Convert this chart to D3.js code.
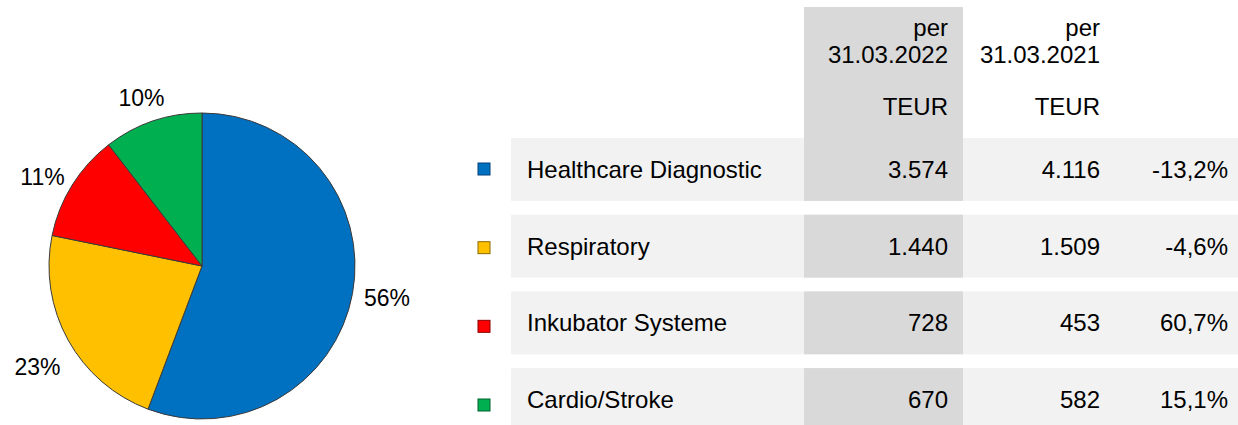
<!DOCTYPE html>
<html>
<head>
<meta charset="utf-8">
<script src="https://cdn.jsdelivr.net/npm/d3@7"></script>
<style>
  body { margin: 0; background: #fff; }
  text { font-family: "Liberation Sans", Arial, sans-serif; fill: #000; }
</style>
</head>
<body>
<div id="chart"></div>
<script>
// data
var categories = ["Healthcare Diagnostic", "Respiratory", "Inkubator Systeme", "Cardio/Stroke"]
var values2022 = [3574, 1440, 728, 670]
var values2021 = [4116, 1509, 453, 582]
var shareLabels = ["56%", "23%", "11%", "10%"]
var headers2022 = ["per", "31.03.2022", "TEUR"]
var headers2021 = ["per", "31.03.2021", "TEUR"]

var colors = ["#0070c0", "#ffc000", "#ff0000", "#00b050"]
var borders = ["#00407a", "#8a6a00", "#8a0000", "#00602c"]

var width = 1238
var height = 425

var de = d3.formatLocale({ decimal: ",", thousands: ".", grouping: [3], currency: ["", " €"] })
var fmtNum = de.format(",d")
var fmtPct = de.format(".1%")

var svg = d3.select("#chart")
  .append("svg")
    .attr("width", width)
    .attr("height", height)

// ---- pie ----
var cx = 202, cy = 266, radius = 153

var pie = d3.pie().sort(null).value(function(d){ return d })
var arcs = pie(values2022)

var arc = d3.arc().innerRadius(0).outerRadius(radius)
var labelArc = d3.arc().innerRadius(188).outerRadius(188)

var gPie = svg.append("g").attr("transform", "translate(" + cx + "," + cy + ")")

gPie.selectAll("path")
  .data(arcs)
  .enter()
  .append("path")
    .attr("d", arc)
    .attr("fill", function(d, i){ return colors[i] })
    .attr("stroke", "#3a3a3a")
    .attr("stroke-width", 1)

// labels on the left side sit a bit lower than the plain centroid
gPie.selectAll("text")
  .data(arcs)
  .enter()
  .append("text")
    .attr("x", function(d){ return labelArc.centroid(d)[0] })
    .attr("y", function(d){
      var c = labelArc.centroid(d)
      return c[1] + (c[0] < 0 ? 18 : 6)
    })
    .attr("text-anchor", "middle")
    .style("font-size", "23px")
    .text(function(d, i){ return shareLabels[i] })

// ---- table ----
var rowLeft = 511
var grayLeft = 804, grayRight = 963
var col1 = 948, col2 = 1100, col3 = 1228

var y = d3.scaleBand()
  .domain(categories)
  .range([138, 431])
  .paddingInner(0.18)
  .paddingOuter(0)

// legend squares sit on their own slightly wider spacing
var yLegend = d3.scalePoint()
  .domain(categories)
  .range([169, 405])

// gray header block of the current-year column
svg.append("rect")
  .attr("x", grayLeft)
  .attr("y", 7)
  .attr("width", grayRight - grayLeft)
  .attr("height", y(categories[0]) - 7)
  .attr("fill", "#d9d9d9")

var headerY = [36, 63, 115]
svg.selectAll(".h22")
  .data(headers2022)
  .enter()
  .append("text")
    .attr("x", col1)
    .attr("y", function(d, i){ return headerY[i] })
    .attr("text-anchor", "end")
    .style("font-size", "24px")
    .text(function(d){ return d })

svg.selectAll(".h21")
  .data(headers2021)
  .enter()
  .append("text")
    .attr("x", col2)
    .attr("y", function(d, i){ return headerY[i] })
    .attr("text-anchor", "end")
    .style("font-size", "24px")
    .text(function(d){ return d })

var rows = svg.selectAll(".row")
  .data(categories)
  .enter()
  .append("g")
    .attr("class", "row")

rows.append("rect")
  .attr("x", rowLeft)
  .attr("y", function(d){ return y(d) })
  .attr("width", width - rowLeft)
  .attr("height", y.bandwidth())
  .attr("fill", "#f2f2f2")

rows.append("rect")
  .attr("x", grayLeft)
  .attr("y", function(d){ return y(d) })
  .attr("width", grayRight - grayLeft)
  .attr("height", y.bandwidth())
  .attr("fill", "#d9d9d9")

var baseY = function(d){ return y(d) + y.bandwidth() / 2 + 8.5 }

rows.append("text")
  .attr("x", 527)
  .attr("y", baseY)
  .style("font-size", "24px")
  .text(function(d){ return d })

rows.append("text")
  .attr("x", col1)
  .attr("y", baseY)
  .attr("text-anchor", "end")
  .style("font-size", "24px")
  .text(function(d, i){ return fmtNum(values2022[i]) })

rows.append("text")
  .attr("x", col2)
  .attr("y", baseY)
  .attr("text-anchor", "end")
  .style("font-size", "24px")
  .text(function(d, i){ return fmtNum(values2021[i]) })

rows.append("text")
  .attr("x", col3)
  .attr("y", baseY)
  .attr("text-anchor", "end")
  .style("font-size", "24px")
  .text(function(d, i){ return fmtPct((values2022[i] - values2021[i]) / values2021[i]).replace("−", "-") })

// legend squares
svg.selectAll(".sq")
  .data(categories)
  .enter()
  .append("rect")
    .attr("x", 478)
    .attr("y", function(d){ return yLegend(d) - 6 })
    .attr("width", 12)
    .attr("height", 12)
    .attr("fill", function(d, i){ return colors[i] })
    .attr("stroke", function(d, i){ return borders[i] })
    .attr("stroke-width", 1)
</script>
</body>
</html>
